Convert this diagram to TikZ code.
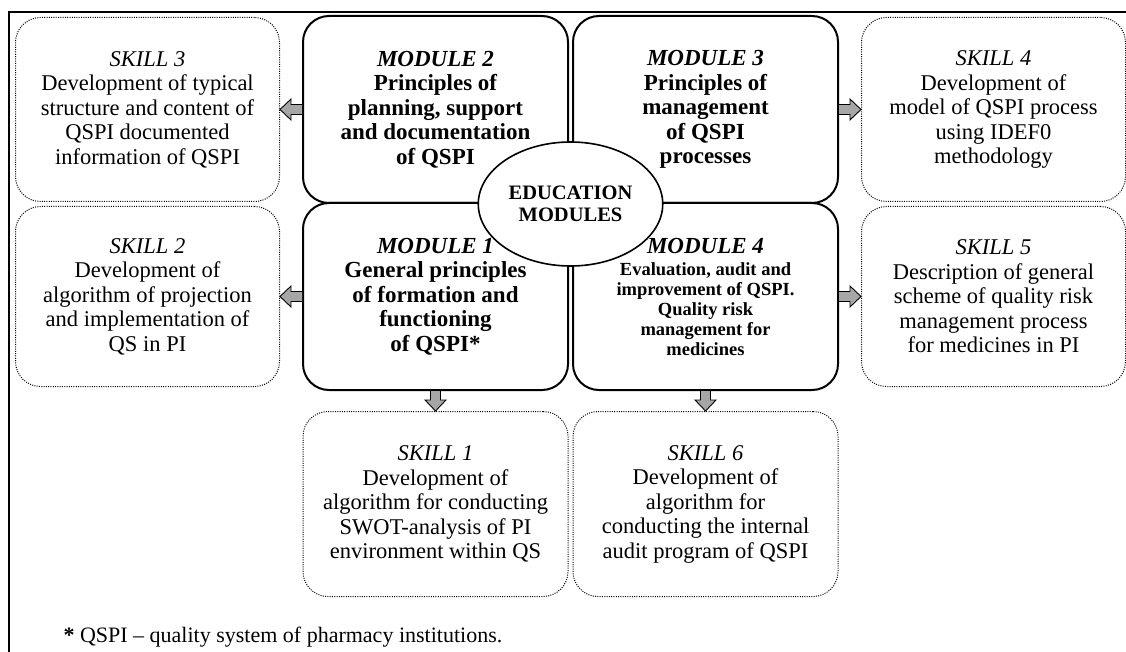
\documentclass[tikz,border=0pt]{standalone}
\usepackage{fontspec}
\setmainfont{Liberation Serif}
\usetikzlibrary{shapes,positioning,calc}

\definecolor{pilgraa}{RGB}{166,166,166}

% grey block arrow from one node border to another
\newcommand{\blokkpil}[2]{%
  \coordinate (pilhode) at ($(#2)!11pt!(#1)$);
  \draw[line width=0.9pt, fill=pilgraa, line join=miter]
    ($(#1)!5pt!90:(#2)$) -- ($(pilhode)!5pt!90:(#2)$) -- ($(pilhode)!10.5pt!90:(#2)$)
    -- (#2) -- ($(pilhode)!10.5pt!-90:(#2)$) -- ($(pilhode)!5pt!-90:(#2)$)
    -- ($(#1)!5pt!-90:(#2)$);
}

\begin{document}
\begin{tikzpicture}[x=1pt, y=-1pt, node distance=22pt]

\tikzstyle{modkasse}=[rectangle, rounded corners=26pt, draw=black, line width=2pt, minimum width=265pt, minimum height=187pt, align=center, font=\bfseries\fontsize{23}{24.5}\selectfont]
\tikzstyle{skillkasse}=[rectangle, rounded corners=25pt, draw=black, line width=1pt, dash pattern=on 1pt off 1.3pt, minimum width=264pt, align=center, font=\fontsize{22.5}{24.5}\selectfont]
\tikzstyle{senter}=[ellipse, draw=black, fill=white, line width=1.6pt, minimum width=166pt, minimum height=124pt, align=center, font=\bfseries\fontsize{20.5}{21.5}\selectfont]

\useasboundingbox (0,0) rectangle (1126,652);
\draw[line width=1.2pt] (1126,12) -- (9,12) -- (9,652);

% modules
\node[modkasse] (m2) at (435.5,109.5) {\textit{MODULE 2}\\Principles of\\planning, support\\and documentation\\of QSPI};
\node[modkasse, right=3pt of m2] (m3) {\textit{MODULE 3}\\Principles of\\management\\of QSPI\\processes};
\node[modkasse, below=-2pt of m2] (m1) {\textit{MODULE 1}\\General principles\\of formation and\\functioning\\of QSPI*};
\node[modkasse, below=-2pt of m3, font=\bfseries\fontsize{18.5}{20}\selectfont] (m4) {{\fontsize{23}{24.5}\selectfont\textit{MODULE 4}}\\[2pt]Evaluation, audit and\\improvement of QSPI.\\Quality risk\\management for\\medicines};

\node[senter] (edu) at ($(m2.south east)!0.5!(m3.south west)$) {EDUCATION\\MODULES};

% skills
\node[skillkasse, minimum height=184pt, left=of m2] (s3) {\textit{SKILL 3}\\Development of typical\\structure and content of\\QSPI documented\\information of QSPI};
\node[skillkasse, minimum height=180pt, left=of m1] (s2) {\textit{SKILL 2}\\Development of\\algorithm of projection\\and implementation of\\QS in PI};
\node[skillkasse, minimum height=184pt, right=of m3] (s4) {\textit{SKILL 4}\\Development of\\model of QSPI process\\using IDEF0\\methodology};
\node[skillkasse, minimum height=180pt, right=of m4] (s5) {\textit{SKILL 5}\\Description of general\\scheme of quality risk\\management process\\for medicines in PI};
\node[skillkasse, minimum height=185pt, minimum width=265pt, below=20pt of m1] (s1) {\textit{SKILL 1}\\Development of\\algorithm for conducting\\SWOT-analysis of PI\\environment within QS};
\node[skillkasse, minimum height=185pt, minimum width=265pt, below=20pt of m4] (s6) {\textit{SKILL 6}\\Development of\\algorithm for\\conducting the internal\\audit program of QSPI};

\node[anchor=west, font=\fontsize{22}{24}\selectfont] (fotnote) at (60,637) {\textbf{*} QSPI – quality system of pharmacy institutions.};

\blokkpil{m2.west}{s3.east}
\blokkpil{m1.west}{s2.east}
\blokkpil{m3.east}{s4.west}
\blokkpil{m4.east}{s5.west}
\blokkpil{m1.south}{s1.north}
\blokkpil{m4.south}{s6.north}

\end{tikzpicture}
\end{document}
